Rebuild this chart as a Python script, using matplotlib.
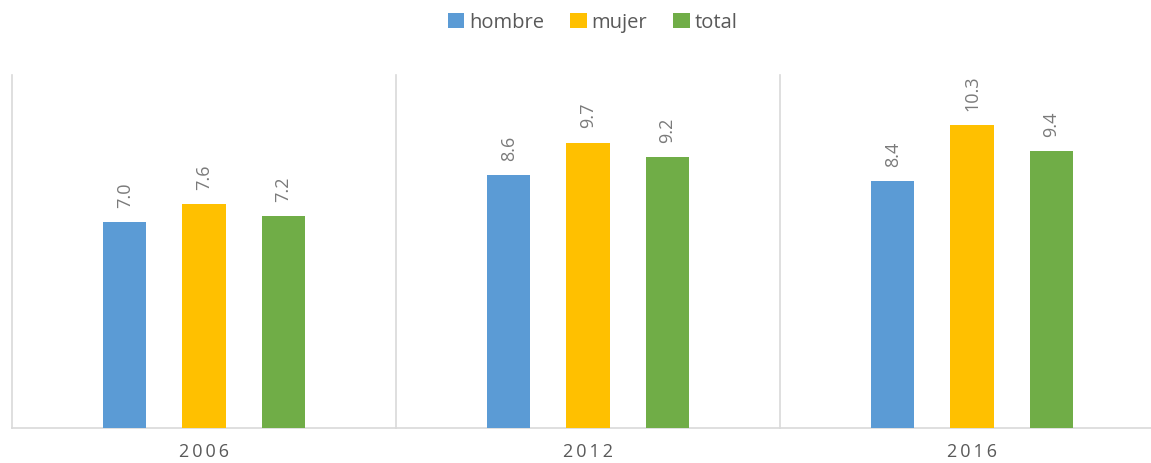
import numpy as np
import matplotlib.pyplot as plt

plt.rcParams['font.family'] = ['Open Sans', 'DejaVu Sans']

# data
years = ['2006', '2012', '2016']
hombre = [7.0, 8.6, 8.4]
mujer = [7.6, 9.7, 10.3]
total = [7.2, 9.2, 9.4]

series = [('hombre', hombre, '#5b9bd5'),
          ('mujer', mujer, '#ffc000'),
          ('total', total, '#70ad47')]

fig = plt.figure(figsize=(11.51, 4.64), dpi=100)
ax = fig.add_axes([12 / 1151, 35 / 464, 1152 / 1151, 353 / 464])

x = np.arange(len(years)) + 0.5
width = 0.112
step = 0.206

for i, (name, vals, col) in enumerate(series):
    pos = x + (i - 1) * step
    ax.bar(pos, vals, width, color=col, label=name, zorder=3)
    for xp, v in zip(pos, vals):
        ax.annotate('%.1f' % v, (xp, v), xytext=(0, 11), textcoords='offset points',
                    rotation=90, ha='center', va='bottom', fontsize=13,
                    color='#7a7a7a')

# group separators
for b in range(len(years) + 1):
    ax.plot([b, b], [0, 12], color='#d9d9d9', lw=1.2, zorder=1, clip_on=False)

ax.set_xlim(0, len(years))
ax.set_ylim(0, 12)
ax.set_yticks([])
ax.set_xticks(x)
ax.set_xticklabels(['\u2009'.join(y) for y in years], fontsize=13, color='#595959')
ax.tick_params(axis='x', length=0, pad=10)
for s in ['top', 'right', 'left']:
    ax.spines[s].set_visible(False)
ax.spines['bottom'].set_color('#d9d9d9')
ax.spines['bottom'].set_linewidth(1.2)

fig.legend(loc='upper center', bbox_to_anchor=(0.515, 1.01), ncol=3, frameon=False,
           handlelength=0.8, handleheight=0.8, handletextpad=0.25,
           columnspacing=1.3, fontsize=14.5, labelcolor='#595959')

plt.savefig('out.png', dpi=100)
